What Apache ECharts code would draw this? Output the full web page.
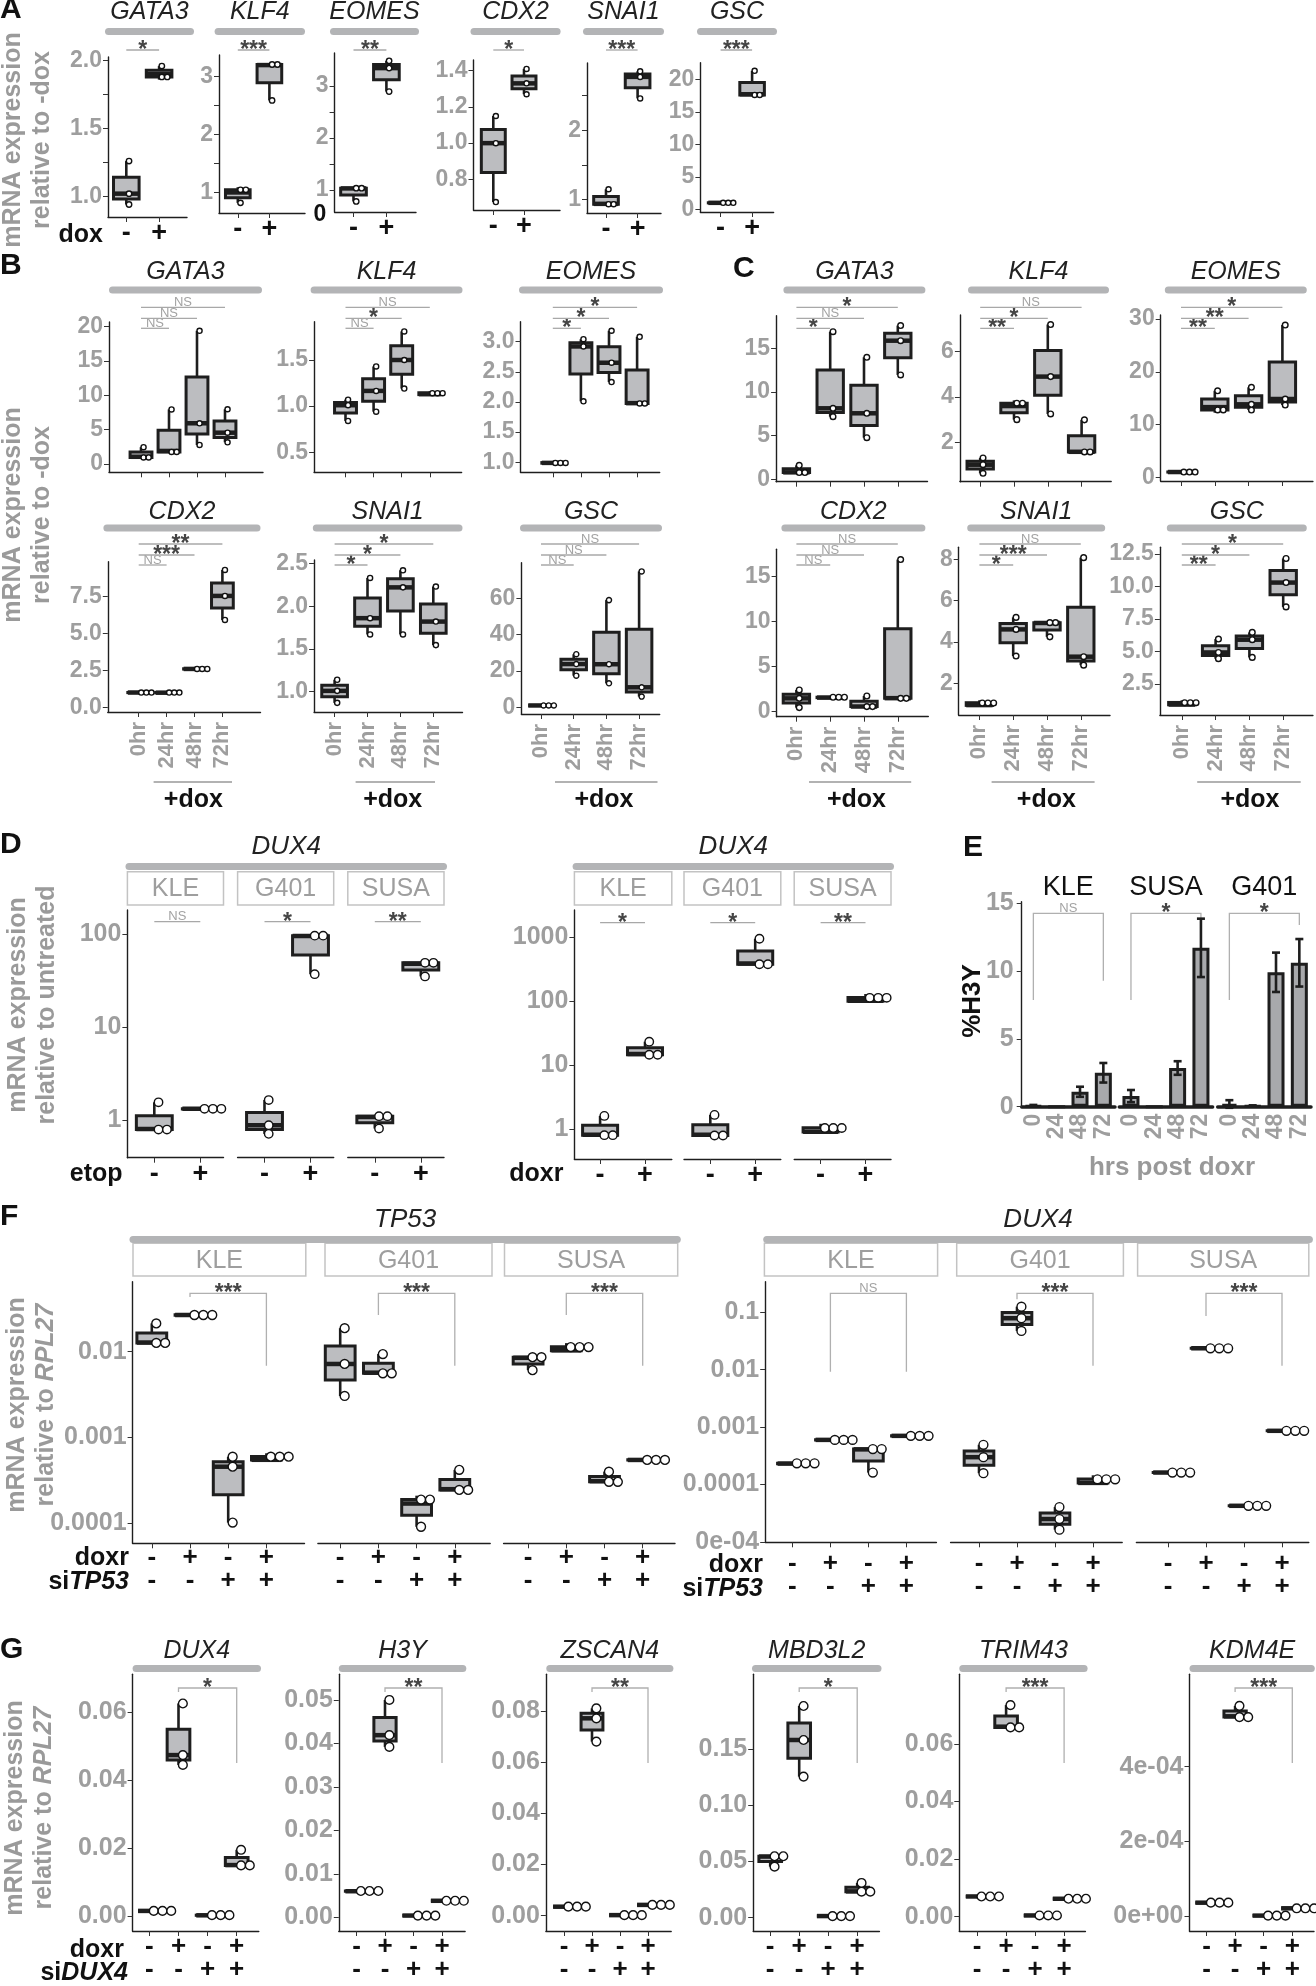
<!DOCTYPE html>
<html><head><meta charset="utf-8">
<script src="https://cdn.jsdelivr.net/npm/echarts@6/dist/echarts.min.js"></script>
<style>html,body{margin:0;padding:0;background:#fff}#main{width:1316px;height:1986px}</style>
</head><body><div id="main"></div>
<script>
// ================= DATA =================
const DOX = ['-', '+'];
const TIMES = ['0hr', '24hr', '48hr', '72hr'];
const HRS = ['0', '24', '48', '72'];
const DOXR_ROW = ['-', '+', '-', '+'];
const SI_ROW = ['-', '-', '+', '+'];
const CELLS = ['KLE', 'G401', 'SUSA'];
const E_CELLS = ['KLE', 'SUSA', 'G401'];

// Panel A (replicate values, -dox / +dox)
const A_GENES = ['GATA3', 'KLF4', 'EOMES', 'CDX2', 'SNAI1', 'GSC'];
const A_GATA3 = [[1.26, 1.02, 0.94], [1.96, 1.90, 1.86]];
const A_KLF4 = [[1.09, 1.00, 0.82], [3.22, 3.20, 2.59]];
const A_EOMES = [[1.04, 1.03, 0.78], [3.48, 3.34, 2.89]];
const A_CDX2 = [[1.15, 1.00, 0.675], [1.41, 1.33, 1.27]];
const A_SNAI1 = [[1.15, 0.94, 0.93], [2.85, 2.77, 2.46]];
const A_GSC = [[1.02, 1.00, 0.98], [21.3, 17.7, 17.5]];
const A_SIG = ['*', '***', '**', '*', '***', '***'];
const A_YT = [[1, 1.25, 1.5, 1.75, 2], [1, 1.5, 2, 2.5, 3], [1, 1.5, 2, 2.5, 3], [0.8, 1, 1.2, 1.4], [1, 1.5, 2, 2.5], [0, 5, 10, 15, 20]];
const A_YL = [[1, 1.5, 2], [1, 2, 3], [1, 2, 3], [0.8, 1, 1.2, 1.4], [1, 2], [0, 5, 10, 15, 20]];
const A_YLT = [['1.0', '1.5', '2.0'], ['1', '2', '3'], ['1', '2', '3'], ['0.8', '1.0', '1.2', '1.4'], ['1', '2'], ['0', '5', '10', '15', '20']];

// Panel B (0/24/48/72 hr)
const B_GENES = ['GATA3', 'KLF4', 'EOMES', 'CDX2', 'SNAI1', 'GSC'];
const B_GATA3 = [[2.45, 1.05, 0.85], [7.95, 1.9, 1.6], [19.4, 5.93, 2.77], [7.97, 4.56, 3.16]];
const B_KLF4 = [[1.07, 1.01, 0.84], [1.43, 1.165, 0.94], [1.81, 1.5, 1.19], [1.16, 1.13, 1.12]];
const B_EOMES = [[1.0, 0.99, 0.98], [3.04, 2.92, 2.01], [3.18, 2.65, 2.33], [3.08, 1.98, 1.97]];
const B_CDX2 = [[1.01, 1.0, 0.99], [1.02, 0.99, 0.97], [2.62, 2.6, 2.58], [9.31, 7.55, 5.92]];
const B_SNAI1 = [[1.14, 1.01, 0.87], [2.33, 1.86, 1.67], [2.42, 2.22, 1.67], [2.23, 1.82, 1.545]];
const B_GSC = [[1.0, 1.0, 1.0], [29.2, 23.8, 17.4], [59, 23.7, 13.2], [74.8, 11.0, 5.9]];
const B_SIG = [['NS', 'NS', 'NS'], ['NS', '*', 'NS'], ['*', '*', '*'], ['NS', '***', '**'], ['*', '*', '*'], ['NS', 'NS', 'NS']];
const B_YT = [[0, 5, 10, 15, 20], [0.5, 1, 1.5], [1, 1.5, 2, 2.5, 3], [0, 2.5, 5, 7.5], [1, 1.5, 2, 2.5], [0, 20, 40, 60]];
const B_YLT = [['0', '5', '10', '15', '20'], ['0.5', '1.0', '1.5'], ['1.0', '1.5', '2.0', '2.5', '3.0'], ['0.0', '2.5', '5.0', '7.5'], ['1.0', '1.5', '2.0', '2.5'], ['0', '20', '40', '60']];

// Panel C
const C_GENES = ['GATA3', 'KLF4', 'EOMES', 'CDX2', 'SNAI1', 'GSC'];
const C_GATA3 = [[1.6, 0.8, 0.75], [16.9, 8.13, 7.17], [13.97, 7.56, 4.77], [17.6, 15.87, 11.95]];
const C_KLF4 = [[1.31, 1.01, 0.63], [3.85, 3.6, 3.0], [7.2, 4.9, 3.25], [2.99, 1.58, 1.57]];
const C_EOMES = [[1.02, 1.0, 0.99], [16.4, 13.3, 12.25], [17.05, 13.83, 12.75], [28.86, 14.84, 13.7]];
const C_CDX2 = [[2.41, 1.48, 0.45], [1.65, 1.56, 1.55], [1.74, 0.57, 0.55], [16.9, 1.5, 1.46]];
const C_SNAI1 = [[1.18, 0.95, 0.92], [5.19, 4.61, 3.32], [4.95, 4.92, 4.25], [8.08, 3.29, 2.88]];
const C_GSC = [[1.24, 0.92, 0.88], [5.95, 4.92, 4.44], [6.46, 5.9, 4.54], [12.14, 10.29, 8.42]];
const C_SIG = [['*', 'NS', '*'], ['**', '*', 'NS'], ['**', '**', '*'], ['NS', 'NS', 'NS'], ['*', '***', 'NS'], ['**', '*', '*']];
const C_YT = [[0, 5, 10, 15], [2, 4, 6], [0, 10, 20, 30], [0, 5, 10, 15], [2, 4, 6, 8], [2.5, 5, 7.5, 10, 12.5]];
const C_YLT = [['0', '5', '10', '15'], ['2', '4', '6'], ['0', '10', '20', '30'], ['0', '5', '10', '15'], ['2', '4', '6', '8'], ['2.5', '5.0', '7.5', '10.0', '12.5']];

// Panel D (log scale; -/+ per cell line)
const D_ETOP_KLE = [[1.55, 0.80, 0.78], [1.33, 1.32, 1.31]];
const D_ETOP_G401 = [[1.64, 0.88, 0.71], [97, 95, 37]];
const D_ETOP_SUSA = [[1.12, 1.08, 0.81], [50, 48, 35]];
const D_DOXR_KLE = [[1.62, 0.82, 0.80], [23.4, 15, 14.3]];
const D_DOXR_G401 = [[1.68, 0.82, 0.78], [950, 390, 370]];
const D_DOXR_SUSA = [[1.22, 0.92, 0.90], [130, 102, 99]];
const D_SIG_ETOP = ['NS', '*', '**'];
const D_SIG_DOXR = ['*', '*', '**'];
const D_YT_ETOP = [1, 10, 100];
const D_YLT_ETOP = ['1', '10', '100'];
const D_YT_DOXR = [1, 10, 100, 1000];
const D_YLT_DOXR = ['1', '10', '100', '1000'];

// Panel E (%H3Y mean and error)
const E_KLE_MEAN = [0.08, 0, 1.1, 2.5];
const E_KLE_ERR = [0.05, 0, 0.37, 0.72];
const E_SUSA_MEAN = [0.78, 0, 2.85, 11.7];
const E_SUSA_ERR = [0.45, 0, 0.5, 2.15];
const E_G401_MEAN = [0.2, 0.05, 9.9, 10.6];
const E_G401_ERR = [0.28, 0.05, 1.45, 1.75];
const E_SIG = ['NS', '*', '*'];
const E_YT = [0, 5, 10, 15];

// Panel F (log scale)
const F_TP53_KLE = [[0.0214, 0.0128, 0.0125], [0.0270, 0.0268, 0.0266], [0.000597, 0.000457, 0.000102], [0.000655, 0.00055, 0.000545]];
const F_TP53_G401 = [[0.0188, 0.0072, 0.00305], [0.0094, 0.0057, 0.0055], [0.00021, 0.00017, 0.0000912], [0.00042, 0.00025, 0.00024]];
const F_TP53_SUSA = [[0.0088, 0.0085, 0.0061], [0.0126, 0.0104, 0.0102], [0.0004, 0.00031, 0.0003], [0.00055, 0.000548, 0.000546]];
const F_DUX4_KLE = [[0.00024, 0.000232, 0.00023], [0.00061, 0.0006, 0.00059], [0.00042, 0.00041, 0.000162], [0.00071, 0.000705, 0.0007]];
const F_DUX4_G401 = [[0.000492, 0.0003, 0.000158], [0.125, 0.0787, 0.0473], [0.0000406, 0.0000251, 0.0000164], [0.000145, 0.000107, 0.000105]];
const F_DUX4_SUSA = [[0.000163, 0.000162, 0.000161], [0.0237, 0.0236, 0.0235], [0.0000428, 0.0000427, 0.0000426], [0.000865, 0.000863, 0.000861]];
const F_SIG_TP53 = ['***', '***', '***'];
const F_SIG_DUX4 = ['NS', '***', '***'];
const F_YT_TP53 = [0.0001, 0.001, 0.01];
const F_YLT_TP53 = ['0.0001', '0.001', '0.01'];
const F_YT_DUX4 = [0.00001, 0.0001, 0.001, 0.01, 0.1];
const F_YLT_DUX4 = ['0e-04', '0.0001', '0.001', '0.01', '0.1'];

// Panel G
const G_GENES = ['DUX4', 'H3Y', 'ZSCAN4', 'MBD3L2', 'TRIM43', 'KDM4E'];
const G_DUX4 = [[0.0015, 0.0015, 0.0015], [0.0626, 0.0474, 0.0445], [0.0003, 0.0002, 0.0002], [0.0195, 0.015, 0.0148]];
const G_H3Y = [[0.0061, 0.006, 0.006], [0.05, 0.0419, 0.0392], [0.0004, 0.0004, 0.0004], [0.0038, 0.0038, 0.0038]];
const G_ZSCAN4 = [[0.0035, 0.0035, 0.0035], [0.081, 0.0771, 0.068], [0.0002, 0.0002, 0.0002], [0.0042, 0.0042, 0.0042]];
const G_MBD3L2 = [[0.055, 0.0545, 0.0455], [0.1886, 0.1583, 0.1257], [0.0015, 0.0015, 0.0015], [0.031, 0.0235, 0.023]];
const G_TRIM43 = [[0.007, 0.007, 0.007], [0.0735, 0.066, 0.0655], [0.0004, 0.0004, 0.0004], [0.0062, 0.0062, 0.0062]];
const G_KDM4E = [[0.0000357, 0.0000357, 0.0000357], [0.000563, 0.000535, 0.000531], [0.000001, 0.000001, 0.000001], [0.0000206, 0.0000206, 0.0000206]];
const G_SIG = ['*', '**', '**', '*', '***', '***'];
const G_YT = [[0, 0.02, 0.04, 0.06], [0, 0.01, 0.02, 0.03, 0.04, 0.05], [0, 0.02, 0.04, 0.06, 0.08], [0, 0.05, 0.1, 0.15], [0, 0.02, 0.04, 0.06], [0, 0.0002, 0.0004]];
const G_YLT = [['0.00', '0.02', '0.04', '0.06'], ['0.00', '0.01', '0.02', '0.03', '0.04', '0.05'], ['0.00', '0.02', '0.04', '0.06', '0.08'], ['0.00', '0.05', '0.10', '0.15'], ['0.00', '0.02', '0.04', '0.06'], ['0e+00', '2e-04', '4e-04']];

// ================= LAYOUT (pixels) =================
const A_L = [
  {l:108, r:187, t:57, b:217, t0:126.3, dt:32.8, ymin:0.848, ymax:2.027, strip:[105,194]},
  {l:219, r:305, t:55, b:213, t0:237.8, dt:31.6, ymin:0.645, ymax:3.374, strip:[214.6,305]},
  {l:334.6, r:416, t:53, b:212, t0:353.5, dt:32.9, ymin:0.577, ymax:3.63, strip:[330,419]},
  {l:473.5, r:560, t:60, b:210, t0:493.3, dt:30.7, ymin:0.631, ymax:1.459, strip:[470.5,560.6]},
  {l:587, r:661, t:63, b:213, t0:606, dt:31.6, ymin:0.808, ymax:2.97, strip:[583,664]},
  {l:700.4, r:773.6, t:62.7, b:212, t0:720.6, dt:31.5, ymin:-0.41, ymax:22.55, strip:[697,777]}
];
const B_L = [
  {l:109, r:263, t:322, b:472.3, t0:141, dt:28, ymin:-1.21, ymax:20.68, strip:[109,262]},
  {l:314.1, r:461.6, t:321.7, b:472.3, t0:345.5, dt:28.1, ymin:0.283, ymax:1.915, strip:[310.6,462.5]},
  {l:520.5, r:659.7, t:321.7, b:472.3, t0:552.8, dt:28.1, ymin:0.834, ymax:3.33, strip:[519,663]},
  {l:107.8, r:260.5, t:561.7, b:712, t0:138.7, dt:27.9, ymin:-0.32, ymax:9.87, strip:[103.4,260.5]},
  {l:314.1, r:462.5, t:560, b:712, t0:334.6, dt:32.9, ymin:0.763, ymax:2.54, strip:[312.8,462.5]},
  {l:521.4, r:659.7, t:562.7, b:714, t0:541, dt:32.7, ymin:-3.7, ymax:79.6, strip:[520,662]}
];
const C_L = [
  {l:776.1, r:927.5, t:315.7, b:481.7, t0:796.4, dt:33.8, ymin:-0.27, ymax:18.73, strip:[783.4,925.4]},
  {l:959.9, r:1111.2, t:315, b:481.7, t0:980.2, dt:33.8, ymin:0.26, ymax:7.62, strip:[968,1109]},
  {l:1160.7, r:1312.9, t:315, b:481, t0:1181, dt:33.8, ymin:-0.7, ymax:30.76, strip:[1164.8,1306.8]},
  {l:776.6, r:928.3, t:549.3, b:716.7, t0:796.4, dt:33.8, ymin:-0.56, ymax:18.04, strip:[781.4,925.4]},
  {l:958.7, r:1110, t:547.3, b:715, t0:979.4, dt:33.8, ymin:0.47, ymax:8.58, strip:[967.2,1105.2]},
  {l:1159.9, r:1312.9, t:547.3, b:715, t0:1181.8, dt:33.8, ymin:0.115, ymax:13.0, strip:[1166.8,1306.8]}
];
const DOXLINE_B = [[153.6,232,193.3],[355.6,435,392.7],[555,657.5,604]];
const DOXLINE_C = [[809,911.2,856.5],[991.6,1094.6,1046.3],[1197.2,1300.7,1250]];
const D_LEFT = {t:910, b:1157.7, ymin:0.3936, ymax:181.1, dt:46, facets:[[127.4,223.5,154.3],[237.6,333.7,264.5],[347.8,444,374.8]], strip:[125.5,447], sigY:921.7};
const D_RIGHT = {t:910, b:1159, ymin:0.3436, ymax:2673, dt:44.9, facets:[[574.4,671.8,600.1],[684,780.8,710.3],[794.2,891,820.6]], strip:[572.6,894], sigY:922.7};
const E_L = {t:901.7, b:1106.7, w:93.3, lefts:[1021.7,1119.3,1217.7], ymax:15.1, top:913.3, legs:[[1000,980.7],[1000,924],[1000,925]]};
const F_LEFT = {t:1281.7, b:1543.3, ymin:5.85e-5, ymax:0.0655, dt:38.2, facets:[[132.6,304.5,151.8],[317.9,490.2,340.2],[503.6,675,528.1]], boxes:[[133,305.8],[325,492],[504.5,677.7]], strip:[129.5,680.8], legs:[[1297,1365.7],[1315,1365.7],[1315,1365.7]], margin:3};
const F_RIGHT = {t:1281.7, b:1542.3, ymin:9.886e-6, ymax:0.3404, dt:38, facets:[[765.2,936.4,792.4],[950.6,1122.2,979],[1136.4,1308.8,1168]], boxes:[[764.4,937.6],[956.7,1123.4],[1137.6,1308.8]], strip:[763.2,1312.9], legs:[[1371.7,1371.7],[1299.3,1365.7],[1316,1365.7]], margin:10};
const G_L = [
  {l:132.6, r:258.8, t0:149.4, dt:29.1, ymin:-0.00442, ymax:0.0712, strip:[132.6,261]},
  {l:338.8, r:465.1, t0:356.5, dt:28.5, ymin:-0.00315, ymax:0.0559, strip:[338.8,466.3]},
  {l:545.9, r:671.2, t0:564, dt:28.0, ymin:-0.006, ymax:0.0943, strip:[546.3,673.4]},
  {l:753.2, r:879.4, t0:770.2, dt:29, ymin:-0.0118, ymax:0.2168, strip:[752,881.5]},
  {l:959.3, r:1085.4, t0:977.1, dt:29, ymin:-0.005, ymax:0.0842, strip:[959.3,1087.6]},
  {l:1189.5, r:1314, t0:1206.5, dt:28.6, ymin:-0.0000402, ymax:0.0006476, strip:[1189.5,1314.8]}
];

// ================= BUILD =================
const FONT = "'Liberation Sans', Arial, Helvetica, sans-serif";
const GRAY = '#9e9e9e';
const INK = '#1e1e1e';
const chart = echarts.init(document.getElementById('main'), null, {width:1316, height:1986, renderer:'canvas'});
const grid = [], xAxis = [], yAxis = [], series = [], gfx = [], sigs = [];

const XS_SIGN = {fontSize:27, fontWeight:'bold', color:'#111', margin:3};
const XS_TIME = {fontSize:22, fontWeight:'bold', color:GRAY, rotate:90, margin:10};
const XS_ROWS = {fontSize:26, fontWeight:'bold', color:'#111', lineHeight:23, margin:3};

function nearestIdx(arr, v, log) {
  let bi = 0, bd = Infinity;
  arr.forEach((a, i) => { const d = log ? Math.abs(Math.log(v / a)) : Math.abs(v - a); if (d < bd) { bd = d; bi = i; } });
  return bi;
}
// five-number summary of replicates (R type-7 quantiles, on log scale for log axes)
function five(vals, log) {
  const t = vals.map(v => log ? Math.log10(v) : v).sort((a, b) => a - b);
  const q = p => { const h = (t.length - 1) * p, lo = Math.floor(h), hi = Math.ceil(h); return t[lo] + (h - lo) * (t[hi] - t[lo]); };
  const r = [t[0], q(0.25), q(0.5), q(0.75), t[t.length - 1]];
  return log ? r.map(v => Math.pow(10, v)) : r;
}
// dot-plot stacking of replicate points (binned along y, stacked to the right)
function dots(p, d) {
  const tf = v => p.log ? Math.log10(v) : v;
  const bw = d * (tf(p.ymax) - tf(p.ymin)) / (p.b - p.t);
  const out = [];
  p.data.forEach((vals, i) => {
    const t = vals.map(tf).sort((a, b) => a - b);
    let s = 0;
    while (s < t.length) {
      let e = s; while (e < t.length && t[e] - t[s] < bw) e++;
      const c = (t[s] + t[e - 1]) / 2;
      for (let k = 0; k < e - s; k++) out.push([i + (k + 0.5) * d / p.dt, p.log ? Math.pow(10, c) : c]);
      s = e;
    }
  });
  return out;
}
function boxRenderer(w) {
  return function (params, api) {
    const x = api.value(0);
    const P = k => api.coord([x, api.value(k)]);
    const lo = P(1), q1 = P(2), md = P(3), q3 = P(4), hi = P(5), cx = lo[0];
    const st = {stroke: INK, lineWidth: 2.6};
    return {type: 'group', children: [
      {type: 'line', shape: {x1: cx, y1: hi[1], x2: cx, y2: q3[1]}, style: st},
      {type: 'line', shape: {x1: cx, y1: q1[1], x2: cx, y2: lo[1]}, style: st},
      {type: 'rect', shape: {x: cx - w / 2, y: q3[1], width: w, height: Math.max(q1[1] - q3[1], 0)}, style: {fill: '#bcbdc0', stroke: INK, lineWidth: 3}},
      {type: 'line', shape: {x1: cx - w / 2, y1: md[1], x2: cx + w / 2, y2: md[1]}, style: {stroke: INK, lineWidth: 4.5}}
    ]};
  };
}
function addBoxPanel(p) {
  const gi = grid.length, W = p.r - p.l, H = p.b - p.t;
  const idx = p.data.map((_, i) => i);
  const xmin = -(p.t0 - p.l) / p.dt, xmax = xmin + W / p.dt;
  const d = p.d || H * 0.034;
  const yl = p.yl || p.yt;
  const showY = p.showY !== false;
  grid.push({left: p.l, top: p.t, width: W, height: H, containLabel: false, outerBoundsMode: 'none'});
  xAxis.push({type: 'value', gridIndex: gi, min: xmin, max: xmax, splitLine: {show: false},
    axisLine: {show: true, onZero: false, lineStyle: {color: INK, width: 1.4}},
    axisTick: {show: true, customValues: idx, length: 5, lineStyle: {color: '#333', width: 1}},
    axisLabel: p.xFmt ? Object.assign({show: true, customValues: idx, fontFamily: FONT, formatter: v => p.xFmt(Math.round(v))}, p.xStyle) : {show: false}});
  yAxis.push({type: p.log ? 'log' : 'value', logBase: 10, gridIndex: gi, min: p.ymin, max: p.ymax, splitLine: {show: false},
    axisLine: {show: showY, onZero: false, lineStyle: {color: INK, width: 1.4}},
    axisTick: {show: showY, customValues: p.yt, length: 5, lineStyle: {color: '#333', width: 1}},
    axisLabel: {show: showY, customValues: yl, formatter: v => p.ylt[nearestIdx(yl, v, p.log)], color: GRAY, fontSize: p.yfs || 23, fontWeight: 'bold', fontFamily: FONT, margin: 6}});
  series.push({type: 'custom', xAxisIndex: gi, yAxisIndex: gi, z: 2, silent: true, encode: {x: 0, y: [1, 2, 3, 4, 5]},
    data: p.data.map((v, i) => [i].concat(five(v, p.log))), renderItem: boxRenderer(p.dt * 0.78)});
  series.push({type: 'scatter', xAxisIndex: gi, yAxisIndex: gi, z: 3, silent: true, clip: false, symbol: 'circle', symbolSize: d,
    data: dots(p, d), itemStyle: {color: '#fff', borderColor: '#111', borderWidth: 1.4, opacity: 1}});
  return gi;
}
function txt(x, y, text, o) {
  gfx.push({type: 'text', silent: true, x, y, rotation: o.rot || 0, style: Object.assign({text, fontFamily: FONT, align: 'center', verticalAlign: 'middle', fill: '#111'}, o.style)});
}
function stripTitle(x1, x2, yT, yS, text, fs) {
  gfx.push({type: 'rect', silent: true, shape: {x: x1, y: yS - 3.5, width: x2 - x1, height: 7, r: 3.5}, style: {fill: '#b3b4b6'}});
  txt((x1 + x2) / 2, yT, text, {style: {fill: '#222', fontSize: fs || 25, fontStyle: 'italic'}});
}
function cellBox(x1, x2, y1, y2, text) {
  gfx.push({type: 'rect', silent: true, shape: {x: x1, y: y1, width: x2 - x1, height: y2 - y1}, style: {fill: '#fff', stroke: '#c3c3c3', lineWidth: 1.5}});
  txt((x1 + x2) / 2, (y1 + y2) / 2 + 1, text, {style: {fill: GRAY, fontSize: 25}});
}
function hline(x1, x2, y, color, w) {
  gfx.push({type: 'line', silent: true, shape: {x1, y1: y, x2, y2: y}, style: {stroke: color || '#a8a8a8', lineWidth: w || 1.3}});
}
const richTitle = (l2, it) => ({text: '{n|mRNA expression}\n{n|' + l2 + '}' + (it ? '{i|' + it + '}' : ''),
  rich: {n: {fontSize: 25, fontWeight: 'bold', fill: '#9a9a9a', fontFamily: FONT, align: 'center'},
         i: {fontSize: 25, fontWeight: 'bold', fontStyle: 'italic', fill: '#9a9a9a', fontFamily: FONT, align: 'center'}},
  lineHeight: 29, align: 'center', verticalAlign: 'middle'});
function yTitle(x, y, l2, it) {
  gfx.push({type: 'text', silent: true, x, y, rotation: Math.PI / 2, style: richTitle(l2, it)});
}
function letter(x, y, t) { txt(x, y, t, {style: {fontSize: 30, fontWeight: 'bold', align: 'left'}}); }

// ---------- A ----------
const A_DATA = [A_GATA3, A_KLF4, A_EOMES, A_CDX2, A_SNAI1, A_GSC];
A_GENES.forEach((g, k) => {
  const L = A_L[k];
  const gi = addBoxPanel(Object.assign({}, L, {data: A_DATA[k], yt: A_YT[k], yl: A_YL[k], ylt: A_YLT[k], yfs: 23, xFmt: i => DOX[i], xStyle: XS_SIGN}));
  stripTitle(L.strip[0], L.strip[1], 12.5, 31.5, g);
  sigs.push({kind: 'line', gi, a: 0, b: 1, y: 50, label: A_SIG[k]});
});
letter(0, 10, 'A');
yTitle(28, 140, 'relative to -dox');
txt(103, 235, 'dox', {style: {fontSize: 25, fontWeight: 'bold', align: 'right'}});
txt(320, 215, '0', {style: {fontSize: 23, fontWeight: 'bold'}});

// ---------- B & C ----------
function timePanels(GENES, DATA, LAY, SIG, YT, YLT, DOXL) {
  GENES.forEach((g, k) => {
    const L = LAY[k], row2 = k >= 3;
    const gi = addBoxPanel(Object.assign({}, L, {data: DATA[k], yt: YT[k], ylt: YLT[k], yfs: 23, xFmt: row2 ? (i => TIMES[i]) : null, xStyle: XS_TIME}));
    stripTitle(L.strip[0], L.strip[1], row2 ? 512 : 272, row2 ? 528 : 290, g);
    const ys = row2 ? [565, 555, 544] : [328.3, 318.3, 307.3];
    SIG[k].forEach((lab, j) => sigs.push({kind: 'line', gi, a: 0, b: j + 1, y: ys[j], label: lab}));
  });
  DOXL.forEach(([x1, x2, xc]) => { hline(x1, x2, 782, '#999', 1.5); txt(xc, 800, '+dox', {style: {fontSize: 25, fontWeight: 'bold'}}); });
}
timePanels(B_GENES, [B_GATA3, B_KLF4, B_EOMES, B_CDX2, B_SNAI1, B_GSC], B_L, B_SIG, B_YT, B_YLT, DOXLINE_B);
timePanels(C_GENES, [C_GATA3, C_KLF4, C_EOMES, C_CDX2, C_SNAI1, C_GSC], C_L, C_SIG, C_YT, C_YLT, DOXLINE_C);
letter(0, 266, 'B');
letter(733, 269, 'C');
yTitle(28, 515, 'relative to -dox');

// ---------- D ----------
[[D_LEFT, [D_ETOP_KLE, D_ETOP_G401, D_ETOP_SUSA], D_SIG_ETOP, D_YT_ETOP, D_YLT_ETOP, 'etop', 122.5],
 [D_RIGHT, [D_DOXR_KLE, D_DOXR_G401, D_DOXR_SUSA], D_SIG_DOXR, D_YT_DOXR, D_YLT_DOXR, 'doxr', 563.5]].forEach(([L, DATA, SIG, YT, YLT, lab, lx]) => {
  L.facets.forEach(([l, r, t0], k) => {
    const gi = addBoxPanel({l, r, t: L.t, b: L.b, t0, dt: L.dt, ymin: L.ymin, ymax: L.ymax, log: true, data: DATA[k], yt: YT, ylt: YLT, yfs: 25, showY: k === 0, xFmt: i => DOX[i], xStyle: XS_SIGN});
    cellBox(l, r, 871.7, 905, CELLS[k]);
    sigs.push({kind: 'line', gi, a: 0, b: 1, y: L.sigY, label: SIG[k]});
  });
  stripTitle(L.strip[0], L.strip[1], 847, 866.5, 'DUX4', 26);
  txt(lx, 1174, lab, {style: {fontSize: 25, fontWeight: 'bold', align: 'right'}});
});
letter(0, 845, 'D');
yTitle(33, 1005, 'relative to untreated');

// ---------- E ----------
const E_MEANS = [E_KLE_MEAN, E_SUSA_MEAN, E_G401_MEAN];
const E_ERRS = [E_KLE_ERR, E_SUSA_ERR, E_G401_ERR];
function errRender(params, api) {
  const i = api.value(0), m = api.value(1), s = api.value(2);
  if (!(s > 0)) return null;
  const top = api.coord([i, m + s]), bot = api.coord([i, m - s]);
  const st = {stroke: INK, lineWidth: 2.6};
  return {type: 'group', children: [
    {type: 'line', shape: {x1: top[0], y1: top[1], x2: bot[0], y2: bot[1]}, style: st},
    {type: 'line', shape: {x1: top[0] - 4, y1: top[1], x2: top[0] + 4, y2: top[1]}, style: st},
    {type: 'line', shape: {x1: bot[0] - 4, y1: bot[1], x2: bot[0] + 4, y2: bot[1]}, style: st}]};
}
E_CELLS.forEach((c, k) => {
  const gi = grid.length, left = E_L.lefts[k];
  grid.push({left, top: E_L.t, width: E_L.w, height: E_L.b - E_L.t, containLabel: false, outerBoundsMode: 'none'});
  xAxis.push({type: 'category', gridIndex: gi, data: HRS, axisLine: {show: true, onZero: false, lineStyle: {color: INK, width: 3.5}}, axisTick: {show: false},
    axisLabel: {interval: 0, rotate: 90, color: GRAY, fontSize: 23, fontWeight: 'bold', fontFamily: FONT, margin: 7}});
  yAxis.push({type: 'value', gridIndex: gi, min: 0, max: E_L.ymax, splitLine: {show: false},
    axisLine: {show: k === 0, onZero: false, lineStyle: {color: INK, width: 1.4}},
    axisTick: {show: k === 0, customValues: E_YT, length: 5, lineStyle: {color: '#333'}},
    axisLabel: {show: k === 0, customValues: E_YT, color: GRAY, fontSize: 25, fontWeight: 'bold', fontFamily: FONT, margin: 8}});
  series.push({type: 'bar', xAxisIndex: gi, yAxisIndex: gi, data: E_MEANS[k], barWidth: 17, z: 2, silent: true,
    itemStyle: {color: '#a8a9ac', borderColor: INK, borderWidth: 3}});
  series.push({type: 'custom', xAxisIndex: gi, yAxisIndex: gi, z: 3, silent: true, encode: {x: 0, y: 1},
    data: E_MEANS[k].map((m, i) => [i, m, E_ERRS[k][i]]), renderItem: errRender});
  txt(left + E_L.w / 2, 888, c, {style: {fontSize: 27}});
  sigs.push({kind: 'br', gi, a: 0, b: 3, y: E_L.top, la: E_L.legs[k][0], ra: E_L.legs[k][1], label: E_SIG[k]});
});
letter(963, 848, 'E');
txt(973, 1001, '%H3Y', {rot: Math.PI / 2, style: {fontSize: 26, fontWeight: 'bold'}});
txt(1172, 1168, 'hrs post doxr', {style: {fontSize: 26, fontWeight: 'bold', fill: '#999'}});

// ---------- F ----------
const siRich = gene => ({text: '{n|si}{i|' + gene + '}', rich: {n: {fontSize: 25, fontWeight: 'bold', fill: '#111', fontFamily: FONT}, i: {fontSize: 25, fontWeight: 'bold', fontStyle: 'italic', fill: '#111', fontFamily: FONT}}, align: 'right', verticalAlign: 'middle'});
[[F_LEFT, [F_TP53_KLE, F_TP53_G401, F_TP53_SUSA], F_SIG_TP53, F_YT_TP53, F_YLT_TP53, 'TP53', 129, [1558, 1582]],
 [F_RIGHT, [F_DUX4_KLE, F_DUX4_G401, F_DUX4_SUSA], F_SIG_DUX4, F_YT_DUX4, F_YLT_DUX4, 'DUX4', 763, [1565, 1589]]].forEach(([L, DATA, SIG, YT, YLT, gene, lx, ry]) => {
  L.facets.forEach(([l, r, t0], k) => {
    const gi = addBoxPanel({l, r, t: L.t, b: L.b, t0, dt: L.dt, ymin: L.ymin, ymax: L.ymax, log: true, data: DATA[k], yt: YT, ylt: YLT, yfs: 25, showY: k === 0,
      xFmt: i => DOXR_ROW[i] + '\n' + SI_ROW[i], xStyle: Object.assign({}, XS_ROWS, {margin: L.margin})});
    cellBox(L.boxes[k][0], L.boxes[k][1], 1243.3, 1276, CELLS[k]);
    sigs.push({kind: 'br', gi, a: 1, b: 3, y: 1293.3, la: L.legs[k][0], ra: L.legs[k][1], label: SIG[k]});
  });
  stripTitle(L.strip[0], L.strip[1], 1220, 1239.5, gene, 26);
  txt(lx, ry[0], 'doxr', {style: {fontSize: 25, fontWeight: 'bold', align: 'right'}});
  gfx.push({type: 'text', silent: true, x: lx, y: ry[1], style: siRich('TP53')});
});
letter(0, 1217, 'F');
yTitle(32, 1405, 'relative to ', 'RPL27');

// ---------- G ----------
const G_DATA = [G_DUX4, G_H3Y, G_ZSCAN4, G_MBD3L2, G_TRIM43, G_KDM4E];
G_GENES.forEach((g, k) => {
  const L = G_L[k];
  const gi = addBoxPanel(Object.assign({}, L, {t: 1674.3, b: 1931, data: G_DATA[k], yt: G_YT[k], ylt: G_YLT[k], yfs: 25,
    xFmt: i => DOXR_ROW[i] + '\n' + SI_ROW[i], xStyle: Object.assign({}, XS_ROWS, {margin: 4})}));
  stripTitle(L.strip[0], L.strip[1], 1651, 1668.5, g);
  sigs.push({kind: 'br', gi, a: 1, b: 3, y: 1688, la: 1692, ra: 1763, label: G_SIG[k]});
});
letter(0, 1650, 'G');
yTitle(30, 1808, 'relative to ', 'RPL27');
txt(124, 1950, 'doxr', {style: {fontSize: 25, fontWeight: 'bold', align: 'right'}});
gfx.push({type: 'text', silent: true, x: 128, y: 1973, style: siRich('DUX4')});

// ---------- render ----------
chart.setOption({animation: false, backgroundColor: '#fff', textStyle: {fontFamily: FONT}, grid, xAxis, yAxis, series});

// significance lines / brackets placed through the axes
sigs.forEach(s => {
  const x1 = chart.convertToPixel({xAxisIndex: s.gi}, s.a);
  const x2 = chart.convertToPixel({xAxisIndex: s.gi}, s.b);
  if (s.kind === 'line') {
    hline(x1, x2, s.y, '#a8a8a8', 1.3);
  } else {
    gfx.push({type: 'polyline', silent: true, shape: {points: [[x1, s.la], [x1, s.y], [x2, s.y], [x2, s.ra]]}, style: {stroke: '#b0b0b0', lineWidth: 1.3, fill: null}});
  }
  const ns = s.label === 'NS';
  gfx.push({type: 'text', silent: true, x: (x1 + x2) / 2, y: ns ? s.y + 1.5 : s.y + 12,
    style: {text: s.label, fontFamily: FONT, align: 'center', verticalAlign: 'bottom', fill: ns ? '#a3a3a3' : '#454545', fontSize: ns ? 13 : 23, fontWeight: ns ? 'normal' : 'bold'}});
});
chart.setOption({graphic: {elements: gfx}});
</script>
</body></html>
